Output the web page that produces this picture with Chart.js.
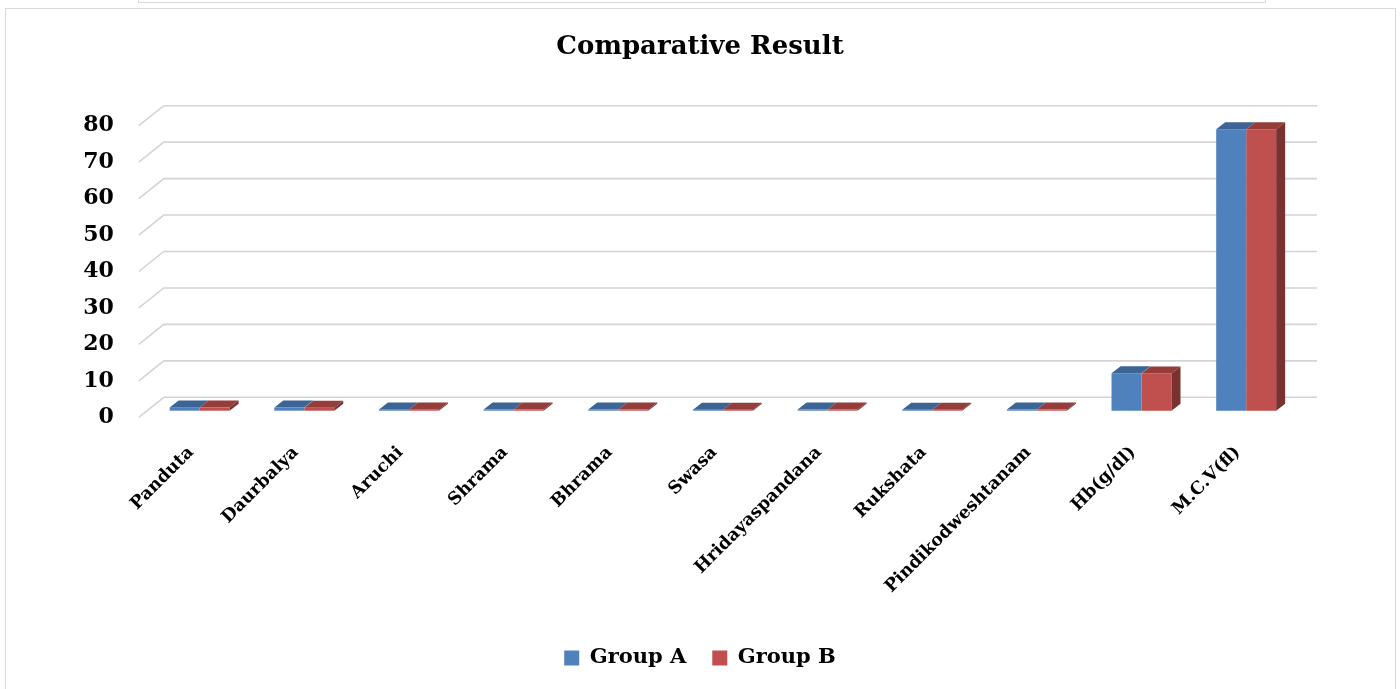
<!DOCTYPE html>
<html>
<head>
<meta charset="utf-8">
<script src="https://cdn.jsdelivr.net/npm/chart.js@4.4.1/dist/chart.umd.min.js"></script>
<style>
  body { margin: 0; background: #fff; }
  #wrap { position: relative; width: 1400px; height: 689px; overflow: hidden; }
  .frame { position: absolute; border: 1.5px solid #d9d9d9; }
  canvas { position: absolute; left: 0; top: 0; }
</style>
</head>
<body>
<div id="wrap">
  <div class="frame" style="left:138px; top:-20px; width:1126px; height:21px;"></div>
  <div class="frame" style="left:5px; top:8px; width:1389px; height:720px;"></div>
  <canvas id="resultChart" width="1400" height="689"></canvas>
</div>
<script>
const categories = ['Panduta', 'Daurbalya', 'Aruchi', 'Shrama', 'Bhrama', 'Swasa',
  'Hridayaspandana', 'Rukshata', 'Pindikodweshtanam', 'Hb(g/dl)', 'M.C.V(fl)'];
const groupA = [0.9, 0.85, 0.35, 0.3, 0.3, 0.25, 0.3, 0.25, 0.3, 10.25, 77.2];
const groupB = [0.85, 0.8, 0.35, 0.3, 0.3, 0.25, 0.3, 0.25, 0.3, 10.2, 77.2];
const yTicks = [0, 10, 20, 30, 40, 50, 60, 70, 80];

const serif = "'DejaVu Serif', 'Liberation Serif', serif";

// depth of the back wall and of the bars (pseudo 3D, like the Excel chart)
const wallDX = 25, wallDY = -20;
const barDX = 8.5, barDY = -6.6;
const topDX = 9, topDY = -7;

const faceColors = [
  { top: '#3c6596', side: '#2f5179' },
  { top: '#953d3a', side: '#7a3230' }
];

const walls3d = {
  id: 'walls3d',
  beforeDatasetsDraw(chart) {
    const ctx = chart.ctx;
    const area = chart.chartArea;
    const y = chart.scales.y;
    ctx.save();
    ctx.strokeStyle = '#d4d4d4';
    ctx.lineWidth = 1.6;
    yTicks.forEach(v => {
      const py = y.getPixelForValue(v);
      ctx.beginPath();
      ctx.moveTo(area.left, py);
      ctx.lineTo(area.left + wallDX, py + wallDY);
      ctx.lineTo(area.right + wallDX + 2, py + wallDY);
      ctx.stroke();
    });
    ctx.restore();
    // bars sit a bit behind the front plane
    ctx.save();
    ctx.translate(barDX, barDY);
  },
  afterDatasetsDraw(chart) {
    const ctx = chart.ctx;
    const last = chart.data.datasets.length - 1;
    chart.data.datasets.forEach((ds, i) => {
      const meta = chart.getDatasetMeta(i);
      meta.data.forEach(bar => {
        const p = bar.getProps(['x', 'y', 'base', 'width'], true);
        const l = p.x - p.width / 2, r = p.x + p.width / 2;
        ctx.fillStyle = faceColors[i].top;
        ctx.beginPath();
        ctx.moveTo(l, p.y);
        ctx.lineTo(l + topDX, p.y + topDY);
        ctx.lineTo(r + topDX, p.y + topDY);
        ctx.lineTo(r, p.y);
        ctx.closePath();
        ctx.fill();
        if (i === last) {
          ctx.fillStyle = faceColors[i].side;
          ctx.beginPath();
          ctx.moveTo(r, p.y);
          ctx.lineTo(r + topDX, p.y + topDY);
          ctx.lineTo(r + topDX, p.base + topDY);
          ctx.lineTo(r, p.base);
          ctx.closePath();
          ctx.fill();
        }
      });
    });
    ctx.restore();
  }
};

const ctx = document.getElementById('resultChart').getContext('2d');

new Chart(ctx, {
  type: 'bar',
  data: {
    labels: categories,
    datasets: [{
      label: 'Group A',
      data: groupA,
      backgroundColor: '#4f81bd',
      borderWidth: 0,
      clip: false
    }, {
      label: 'Group B',
      data: groupB,
      backgroundColor: '#c0504d',
      borderWidth: 0,
      clip: false
    }]
  },
  options: {
    responsive: false,
    animation: false,
    devicePixelRatio: 1,
    categoryPercentage: 0.573,
    barPercentage: 1,
    layout: {
      padding: { top: 0, left: 0, right: 0, bottom: 15.5 }
    },
    scales: {
      x: {
        grid: { display: false },
        border: { display: false },
        ticks: {
          autoSkip: false,
          maxRotation: 45,
          minRotation: 45,
          padding: 17,
          color: '#000',
          font: { family: serif, size: 17.5, weight: 'bold' }
        },
        afterFit(scale) { scale.height = 204.2; }
      },
      y: {
        min: 0,
        max: 80,
        grid: { display: false },
        border: { display: false },
        ticks: {
          stepSize: 10,
          padding: 17,
          color: '#000',
          font: { family: serif, size: 22, weight: 'bold' }
        },
        afterFit(scale) { scale.width = 138.8; }
      },
      yr: {
        position: 'right',
        display: true,
        grid: { display: false },
        border: { display: false },
        ticks: { display: false },
        afterFit(scale) { scale.width = 110; }
      }
    },
    plugins: {
      title: {
        display: true,
        text: 'Comparative Result',
        color: '#000',
        font: { family: serif, size: 26, weight: 'bold' },
        padding: { top: 31.4, bottom: 63.1 }
      },
      legend: {
        position: 'bottom',
        maxHeight: 52,
        labels: {
          boxWidth: 15,
          boxHeight: 15,
          padding: 26,
          color: '#000',
          font: { family: serif, size: 21, weight: 'bold' }
        }
      },
      tooltip: { enabled: false }
    }
  },
  plugins: [walls3d]
});
</script>
</body>
</html>
